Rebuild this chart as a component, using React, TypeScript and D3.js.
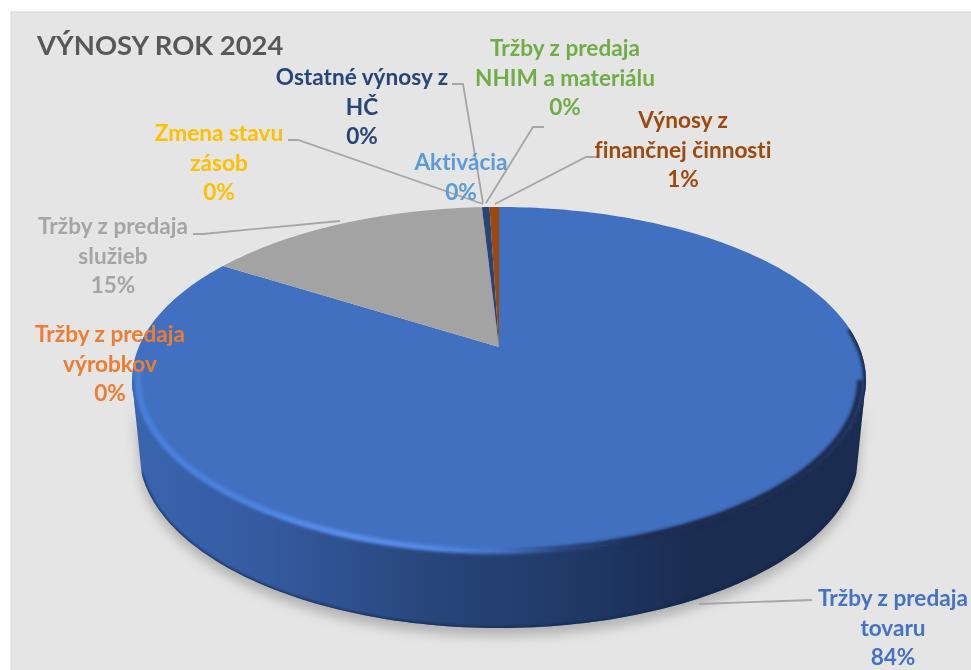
import React from 'react';
import * as d3 from 'd3';

const width = 971;
const height = 670;

// slices in chart order, clockwise from 12 o'clock
const sliceNames = [
  'Tržby z predaja tovaru',
  'Tržby z predaja výrobkov',
  'Tržby z predaja služieb',
  'Zmena stavu zásob',
  'Aktivácia',
  'Tržby z predaja NHIM a materiálu',
  'Ostatné výnosy z HČ',
  'Výnosy z finančnej činnosti',
];
const sliceValues = [84.0, 0, 15.1, 0, 0, 0, 0.4, 0.5];
const percentLabels = ['84%', '0%', '15%', '0%', '0%', '0%', '0%', '1%'];
const sliceColors = ['#4472c4', '#ed7d31', '#a5a5a5', '#ffc000', '#5b9bd5', '#70ad47', '#264478', '#9e480e'];
const faceColors = ['#4170c0', '#ed7d31', '#a3a3a3', '#ffc000', '#5b9bd5', '#70ad47', '#264478', '#9e480e'];
const labelLines = [
  ['Tržby z predaja', 'tovaru'],
  ['Tržby z predaja', 'výrobkov'],
  ['Tržby z predaja', 'služieb'],
  ['Zmena stavu', 'zásob'],
  ['Aktivácia'],
  ['Tržby z predaja', 'NHIM a materiálu'],
  ['Ostatné výnosy z', 'HČ'],
  ['Výnosy z', 'finančnej činnosti'],
];
// centre x and first baseline of each label
const labelAnchors: [number, number][] = [
  [893, 606],
  [110, 342],
  [113, 234],
  [219, 141],
  [461, 170],
  [565, 56],
  [362, 85],
  [683, 128],
];
const leaders: [number, number][][] = [
  [[812, 600], [699, 604]],
  [],
  [[193, 234], [203, 234], [340, 221]],
  [[288, 140], [298, 140], [483, 204]],
  [],
  [[544, 127], [533, 127], [486, 203]],
  [[452, 84], [463, 84], [483, 203]],
  [[598, 157], [586, 157], [495, 204]],
];

// pie seen in perspective: the hub sits above the centre of the rim ellipse
const hub = { x: 499, y: 347 };
const backRadius = 140;
const frontRadius = 206;
const tilt = (frontRadius - backRadius) / (frontRadius + backRadius);
const depthScale = backRadius * (1 + tilt);
const rimRx = 367;
const widthScale = rimRx * Math.sqrt(1 - tilt * tilt);
const rimCenterY = hub.y + (frontRadius - backRadius) / 2;
const rimRy = (frontRadius + backRadius) / 2;

const project = (a: number): [number, number] => {
  const w = 1 + tilt * Math.cos(a);
  return [hub.x + (widthScale * Math.sin(a)) / w, hub.y - (depthScale * Math.cos(a)) / w];
};

const wedgePath = (start: number, end: number) => {
  const n = Math.max(2, Math.ceil((end - start) / 0.02));
  const pts = d3.range(n + 1).map(i => project(start + ((end - start) * i) / n));
  return d3.line()([[hub.x, hub.y], ...pts]) + 'Z';
};

const ellipsePoints = (cy: number, rx: number, ry: number, from: number, to: number) =>
  d3.range(121).map((i): [number, number] => {
    const t = from + ((to - from) * i) / 120;
    return [hub.x + rx * Math.cos(t), cy + ry * Math.sin(t)];
  });

// wall between the front half of the rim and the smaller floor ellipse
const floor = { cy: 452, rx: 360, ry: 176 };
const floorArc = ellipsePoints(floor.cy, floor.rx, floor.ry, Math.PI - 0.12, 0.12);
const wallPath = d3.line()([...ellipsePoints(rimCenterY, rimRx, rimRy, 0, Math.PI), ...floorArc]) + 'Z';
const floorEdge = d3.line()(floorArc) as string;
const rimOuter = d3.line()(ellipsePoints(rimCenterY, rimRx, rimRy, -0.3, Math.PI)) as string;
const rimBevel = d3.line()(ellipsePoints(rimCenterY, rimRx - 6, rimRy - 2, 0, Math.PI + 0.06)) as string;
const rimFull = d3.line()(ellipsePoints(rimCenterY, rimRx, rimRy, 0, 2 * Math.PI)) + 'Z';

const wallStops: [number, string][] = [
  [0, '#3a65ae'],
  [0.16, '#355ca3'],
  [0.283, '#2f5190'],
  [0.42, '#274579'],
  [0.64, '#1f3663'],
  [0.77, '#1a2c50'],
  [1, '#1a2c50'],
];
const bevelStops: [number, string][] = [
  [0, '#4a7ed8'],
  [0.15, '#4c83e0'],
  [0.3, '#5a90ee'],
  [0.42, '#5288e4'],
  [0.5, '#4676c8'],
  [0.58, '#2c4a86'],
  [0.7, '#1a2c50'],
  [1, '#1a2c50'],
];

export default function App() {
  const arcs = d3
    .pie<number>()
    .sort(null)
    .value(d => d)(sliceValues);
  const lineGen = d3.line();

  return (
    <svg
      width={width}
      height={height}
      viewBox={`0 0 ${width} ${height}`}
      style={{ position: 'absolute', left: 0, top: 0, display: 'block', background: '#fff', fontVariantLigatures: 'none' }}
      fontFamily="Lato, sans-serif"
    >
      <defs>
        <linearGradient id="wall" gradientUnits="userSpaceOnUse" x1={132} x2={866} y1={0} y2={0}>
          {wallStops.map(([o, c]) => (
            <stop key={o} offset={o} stopColor={c} />
          ))}
        </linearGradient>
        <linearGradient id="bevel" gradientUnits="userSpaceOnUse" x1={132} x2={866} y1={0} y2={0}>
          {bevelStops.map(([o, c]) => (
            <stop key={o} offset={o} stopColor={c} />
          ))}
        </linearGradient>
        <filter id="soft" x="-10%" y="-10%" width="120%" height="120%">
          <feGaussianBlur stdDeviation="6" />
        </filter>
        <filter id="edge" x="-5%" y="-5%" width="110%" height="110%">
          <feGaussianBlur stdDeviation="1.8" />
        </filter>
        <filter id="floorEdge" x="-5%" y="-5%" width="110%" height="110%">
          <feGaussianBlur stdDeviation="0.8" />
        </filter>
        <filter id="textSoft">
          <feGaussianBlur stdDeviation="0.3" />
        </filter>
        <clipPath id="body">
          <path d={wallPath} />
          <path d={rimFull} />
        </clipPath>
      </defs>

      <rect x={11} y={12} width={width} height={height} fill="#e5e5e5" stroke="#d9d9d9" strokeWidth={1} />

      <path d={wallPath} fill="#8f8f8f" opacity={0.6} filter="url(#soft)" transform="translate(0,8)" />
      <path d={wallPath} fill="url(#wall)" />

      {arcs.map((a, i) =>
        a.endAngle > a.startAngle ? (
          <path key={sliceNames[i]} d={wedgePath(a.startAngle, a.endAngle)} fill={faceColors[i]} />
        ) : null
      )}

      <g clipPath="url(#body)">
        <path d={floorEdge} fill="none" stroke="#16274a" strokeWidth={3} opacity={0.7} filter="url(#floorEdge)" />
        <path d={rimOuter} fill="none" stroke="url(#wall)" strokeWidth={6} filter="url(#edge)" />
        <path d={rimBevel} fill="none" stroke="url(#bevel)" strokeWidth={6} filter="url(#edge)" />
      </g>

      {leaders.map((pts, i) =>
        pts.length ? (
          <path key={i} d={lineGen(pts) as string} fill="none" stroke="#a6a6a6" strokeWidth={1.8} />
        ) : null
      )}

      <g filter="url(#textSoft)">
        <text x={37} y={55} fontSize={27.4} fontWeight={700} fill="#595959">
          VÝNOSY ROK 2024
        </text>
        {labelLines.map((lines, i) => (
          <text key={sliceNames[i]} textAnchor="middle" fontSize={22.6} fontWeight={700} fill={sliceColors[i]}>
            {[...lines, percentLabels[i]].map((t, j) => (
              <tspan key={j} x={labelAnchors[i][0]} y={labelAnchors[i][1] + j * 29.5}>
                {t}
              </tspan>
            ))}
          </text>
        ))}
      </g>
    </svg>
  );
}
